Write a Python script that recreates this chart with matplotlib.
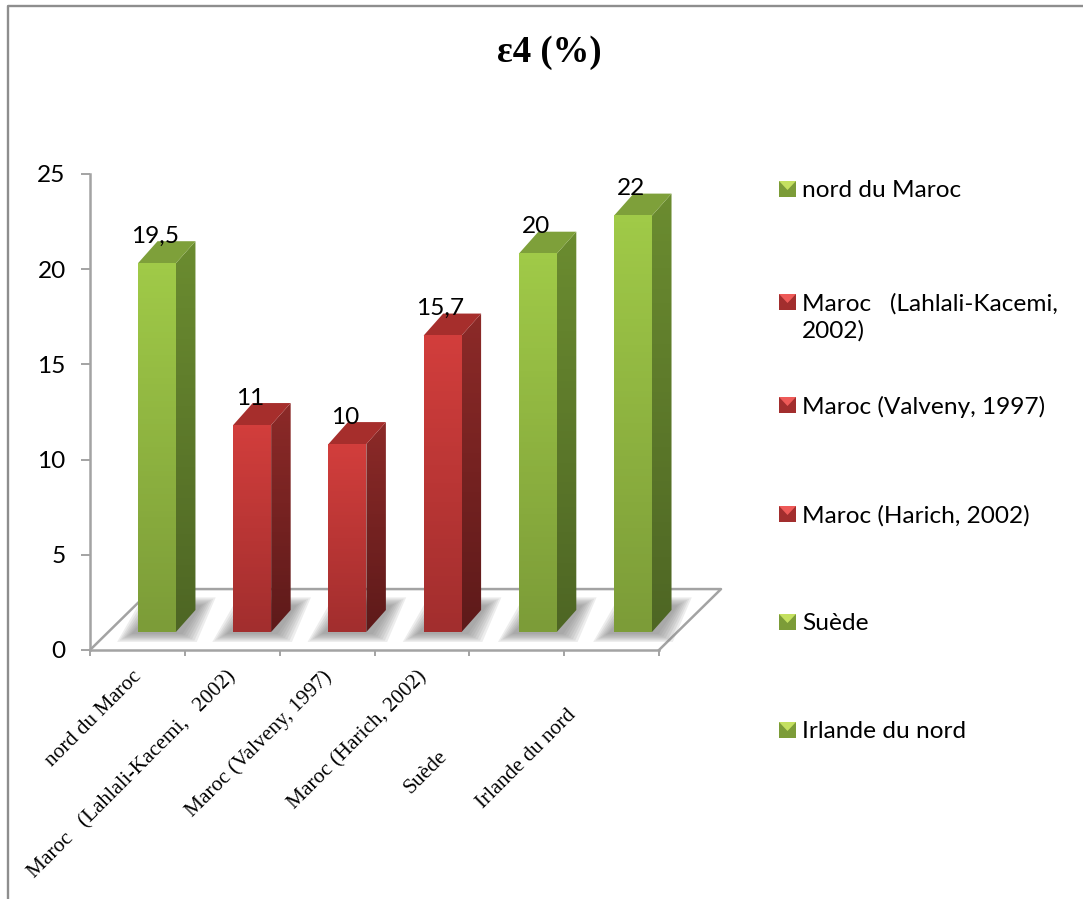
import numpy as np
import matplotlib
matplotlib.use('Agg')
import matplotlib.pyplot as plt
from matplotlib.patches import Polygon

categories = ['nord du Maroc', 'Maroc   (Lahlali-Kacemi,   2002)', 'Maroc (Valveny, 1997)',
              'Maroc (Harich, 2002)', 'Suède', 'Irlande du nord']
values = [19.5, 11, 10, 15.7, 20, 22]
value_labels = ['19,5', '11', '10', '15,7', '20', '22']
bar_groups = ['g', 'r', 'r', 'r', 'g', 'g']
legend_labels = ['nord du Maroc', 'Maroc   (Lahlali-Kacemi,\n2002)', 'Maroc (Valveny, 1997)',
                 'Maroc (Harich, 2002)', 'Suède', 'Irlande du nord']
y_ticks = [0, 5, 10, 15, 20, 25]

# couleurs : (face haut, face bas, cote haut, cote bas, dessus)
colors = {'g': ('#a0ca48', '#7c9c38', '#6b8c30', '#4e6624', '#7ea03a'),
          'r': ('#d23e3c', '#a22e2e', '#8c2a28', '#5e1a1a', '#a62e2c')}

W, H = 1083, 899
AXIS_GRAY = '#a3a3a3'
FONT_SIZE = 17.6
fig = plt.figure(figsize=(W / 100, H / 100), dpi=100, facecolor='white')

# calque en pixels pour le cadre, le titre et la legende
bg = fig.add_axes([0, 0, 1, 1])
bg.set_xlim(0, W)
bg.set_ylim(H, 0)
bg.axis('off')
bg.plot([7.5, 7.5, W], [H, 6, 6], color='#8e8e8e', lw=1.7)
bg.text(549, 53, 'ε4 (%)', family='Liberation Serif', weight='bold', fontsize=26.5,
        ha='center', va='center')


def gradient(axes, c_top, c_bottom, extent, clip=None, zorder=3):
    cmap = matplotlib.colors.LinearSegmentedColormap.from_list('g', [c_top, c_bottom])
    im = axes.imshow(np.linspace(0, 1, 64).reshape(-1, 1), cmap=cmap, extent=extent,
                     aspect='auto', origin='upper', zorder=zorder)
    # la derniere barre depasse de l'axe a cause de la profondeur
    im.set_clip_box(fig.bbox)
    if clip is not None:
        p = Polygon(clip, closed=True, transform=axes.transData)
        im.set_clip_path(p)
        im.set_clip_box(fig.bbox)
    return im


ax = fig.add_axes([90 / W, 1 - 650 / H, 569 / W, 476 / H])
ax.patch.set_alpha(0)

# profondeur du plancher et des barres
floor_dx, floor_dy = 0.654, 3.2
bar_w, side_dx, side_dy, base = 0.40, 0.206, 1.155, 0.945
bevel = 0.13
n = len(categories)

ax.plot([0, floor_dx, n + floor_dx, n], [0, floor_dy, floor_dy, 0], color=AXIS_GRAY,
        lw=1.8, clip_on=False, zorder=1)

for i, (v, grp) in enumerate(zip(values, bar_groups)):
    x0 = i * 1.004 + 0.506
    c = colors[grp]
    top = base + v - bevel

    # ombre au sol
    for k in range(7):
        g = (6 - k) * 0.025
        gy = (6 - k) * 0.07
        ax.add_patch(Polygon([(x0 - 0.07 - g, base - 0.1 - gy), (x0 + bar_w + 0.07 + g, base - 0.1 - gy),
                              (x0 + bar_w + 0.27 + g, base + 1.4 + gy), (x0 + 0.2 - g, base + 1.4 + gy)],
                             closed=True, fc='#808080', ec='none', alpha=0.14, zorder=2, clip_on=False))

    # cote, dessus, face avant
    side = [(x0 + bar_w, base), (x0 + bar_w + side_dx, base + side_dy),
            (x0 + bar_w + side_dx, top + side_dy), (x0 + bar_w, top)]
    gradient(ax, c[2], c[3], (x0 + bar_w, x0 + bar_w + side_dx, base, top + side_dy), clip=side)
    ax.add_patch(Polygon([(x0, top), (x0 + bar_w, top), (x0 + bar_w + side_dx, top + side_dy),
                          (x0 + side_dx, top + side_dy)], closed=True, fc=c[4], ec='none', zorder=3,
                         clip_on=False))
    gradient(ax, c[0], c[1], (x0, x0 + bar_w, base, top), zorder=4)

    ax.annotate(value_labels[i], xy=(x0 + bar_w / 2, top), xytext=(-2, 27), textcoords='offset pixels',
                family='Lato', fontsize=FONT_SIZE, ha='center', va='center', color='black',
                annotation_clip=False, zorder=6)

ax.set_xlim(0, n)
ax.set_ylim(0, 25)
for s in ['top', 'right']:
    ax.spines[s].set_visible(False)
for s in ['left', 'bottom']:
    ax.spines[s].set_color(AXIS_GRAY)
    ax.spines[s].set_linewidth(1.8)
ax.set_yticks(y_ticks)
ax.set_xticks(range(n + 1))
ax.set_xticklabels([])
ax.tick_params(axis='y', length=6.5, width=1.4, color=AXIS_GRAY, labelsize=FONT_SIZE, pad=11)
ax.tick_params(axis='x', length=4.5, width=1.4, color=AXIS_GRAY)
for lab in ax.get_yticklabels():
    lab.set_family('Lato')

# etiquettes inclinees, les deux dernieres sont decalees comme dans l'original
label_shift = [(1, -24), (1, -24), (2, -24), (2, -24), (-72, -104), (-38, -62)]
for i, (name, (sx, sy)) in enumerate(zip(categories, label_shift)):
    ax.annotate(name, xy=(i + 0.5, 0), xytext=(sx, sy), textcoords='offset pixels',
                family='Liberation Serif', fontsize=15.4, rotation=45, rotation_mode='anchor',
                ha='right', va='center', annotation_clip=False)

# legende
legend_y = [189, 302, 405, 514, 622, 730]
for name, grp, ly in zip(legend_labels, bar_groups, legend_y):
    c = colors[grp]
    x1, x2, y1, y2 = 779, 796, ly - 8, ly + 8
    bg.add_patch(Polygon([(x1, y2), (x2, y2), (x2, y1), (x1, y1)], closed=True, fc=c[1], ec='none'))
    bg.add_patch(Polygon([(x1, y1), (x2, y1), (x1 + 8.5, y1 + 9)], closed=True,
                         fc='#c4e060' if grp == 'g' else '#ee5a58', ec='none'))
    bg.text(802, ly - 9, name, family='Lato', fontsize=FONT_SIZE, ha='left', va='top', linespacing=1.3)

fig.savefig('out.png', dpi=100)
